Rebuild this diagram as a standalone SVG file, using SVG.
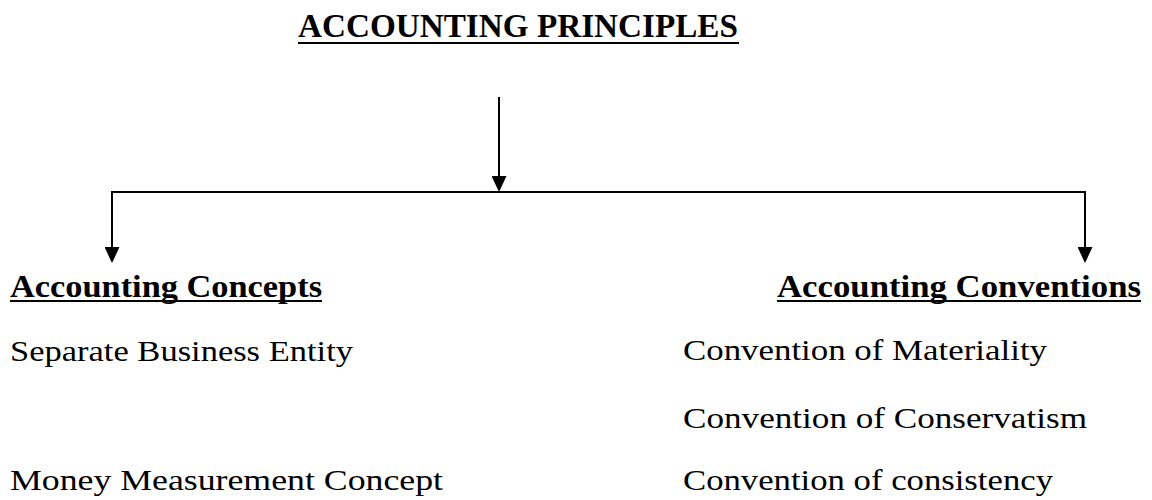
<svg xmlns="http://www.w3.org/2000/svg" width="1152" height="500" viewBox="0 0 1152 500">
  <style>
    .t { font-family: "Palatino Linotype", "Book Antiqua", Palatino, "Liberation Serif", serif; fill: #000; }
    .b { font-weight: bold; }
    .title { font-size: 33px; }
    .head { font-size: 31px; }
    .item { font-size: 30px; }
    .ul { stroke: #000; stroke-width: 2; }
    .conn { stroke: #000; stroke-width: 2; fill: none; }
  </style>
  <defs>
    <marker id="arrow" markerUnits="userSpaceOnUse" viewBox="0 0 15 16" markerWidth="15" markerHeight="16" refX="7.5" refY="4" orient="0">
      <path d="M0,0 L15,0 L7.5,16 Z" fill="#000"/>
    </marker>
  </defs>
  <rect width="1152" height="500" fill="#fff"/>

  <g id="connectors">
    <line class="conn" x1="499" y1="97" x2="499" y2="180" marker-end="url(#arrow)"/>
    <path class="conn" d="M112,252 L112,192 L1085,192 L1085,252"/>
    <line class="conn" x1="112" y1="240" x2="112" y2="251" marker-end="url(#arrow)"/>
    <line class="conn" x1="1085" y1="240" x2="1085" y2="251" marker-end="url(#arrow)"/>
  </g>

  <g id="node-principles">
    <text class="t b title" x="298" y="37" textLength="440" lengthAdjust="spacingAndGlyphs">ACCOUNTING PRINCIPLES</text>
    <line class="ul" x1="298" y1="43" x2="739" y2="43"/>
  </g>

  <g id="node-concepts">
    <text class="t b head" x="10" y="297" textLength="312" lengthAdjust="spacingAndGlyphs">Accounting Concepts</text>
    <line class="ul" x1="10" y1="301" x2="322" y2="301"/>
  </g>

  <g id="node-conventions">
    <text class="t b head" x="777" y="297" textLength="364" lengthAdjust="spacingAndGlyphs">Accounting Conventions</text>
    <line class="ul" x1="777" y1="301" x2="1141" y2="301"/>
  </g>

  <g id="node-separate-entity">
    <text class="t item" x="10" y="361" textLength="343" lengthAdjust="spacingAndGlyphs">Separate Business Entity</text>
  </g>
  <g id="node-money-measurement">
    <text class="t item" x="10" y="490" textLength="433" lengthAdjust="spacingAndGlyphs">Money Measurement Concept</text>
  </g>
  <g id="node-materiality">
    <text class="t item" x="683" y="360" textLength="364" lengthAdjust="spacingAndGlyphs">Convention of Materiality</text>
  </g>
  <g id="node-conservatism">
    <text class="t item" x="683" y="428" textLength="404" lengthAdjust="spacingAndGlyphs">Convention of Conservatism</text>
  </g>
  <g id="node-consistency">
    <text class="t item" x="683" y="490" textLength="370" lengthAdjust="spacingAndGlyphs">Convention of consistency</text>
  </g>
</svg>
